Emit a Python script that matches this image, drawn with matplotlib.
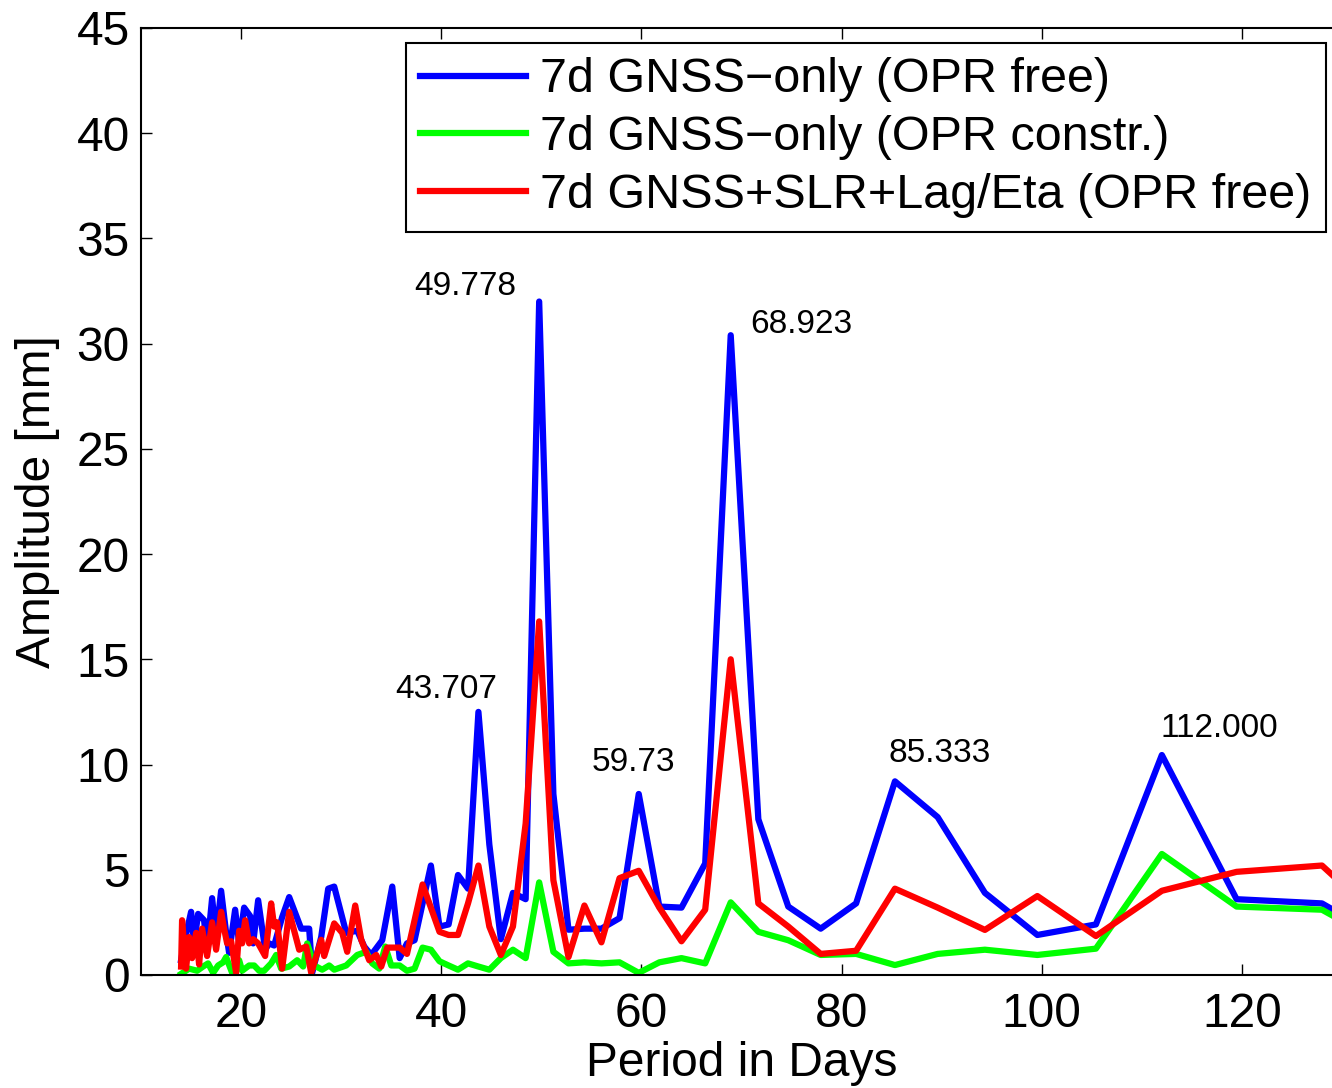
import numpy as np
import matplotlib
matplotlib.use('Agg')
import matplotlib.pyplot as plt

plt.rcParams['font.family'] = ['Liberation Sans', 'DejaVu Sans']

#%% data
# dense short-period part, own vertices per series
blue_x_dense = [14.0, 14.3, 15.0, 15.3, 15.7, 16.3, 16.6, 17.1, 17.5, 18.0, 18.5, 18.8,
                19.4, 19.8, 20.3, 20.9, 21.2, 21.7, 22.4, 22.8, 23.3, 24.1, 24.8, 26.0,
                26.8, 27.1, 28.0, 28.7, 29.3, 30.5, 31.6, 32.3, 33.0, 34.1, 35.1, 35.84]
blue_y_dense = [0.7, 1.5, 3.0, 1.5, 2.9, 2.6, 1.2, 3.65, 1.8, 4.0, 2.0, 1.05,
                3.1, 1.5, 3.2, 2.8, 1.5, 3.55, 1.2, 1.5, 1.4, 2.75, 3.7, 2.2,
                2.2, 0.1, 1.8, 4.1, 4.2, 2.0, 2.1, 1.35, 0.95, 1.65, 4.2, 0.8]

red_x_dense = [14.0, 14.1, 14.5, 14.8, 15.1, 15.5, 15.8, 16.1, 16.6, 17.1, 17.5, 18.0,
               18.3, 18.6, 19.0, 19.5, 19.8, 20.1, 20.4, 20.8, 21.2, 21.7, 22.4, 23.0,
               23.3, 23.6, 24.1, 24.8, 25.8, 26.5, 27.0, 28.0, 28.3, 29.3, 30.1, 30.6,
               31.4, 32.0, 32.8, 33.5, 34.0, 34.6, 35.3, 35.84]
red_y_dense = [0.4, 2.6, 0.3, 1.8, 0.8, 2.0, 0.5, 2.2, 0.9, 2.5, 1.2, 3.0,
               2.2, 1.5, 1.6, 0.1, 2.1, 1.5, 2.6, 1.5, 1.7, 1.5, 0.9, 3.4,
               2.3, 2.5, 0.3, 3.0, 1.2, 1.35, 0.1, 1.67, 0.9, 2.45, 2.0, 1.1,
               3.3, 1.67, 0.7, 0.95, 0.4, 1.3, 1.3, 1.3]

green_x_dense = [14.0, 14.8, 15.6, 16.2, 16.7, 17.2, 17.7, 18.2, 18.5, 19.1, 19.8, 20.1,
                 20.8, 21.3, 21.8, 22.3, 23.0, 23.5, 24.0, 24.8, 25.6, 26.2, 26.6, 27.3,
                 28.1, 28.8, 29.3, 30.5, 31.6, 32.5, 33.1, 33.8, 34.4, 35.0, 35.84]
green_y_dense = [0.05, 0.3, 0.2, 0.4, 0.55, 0.1, 0.45, 0.6, 0.85, 0.1, 0.7, 0.2,
                 0.45, 0.45, 0.2, 0.2, 0.55, 0.95, 0.3, 0.4, 0.7, 0.4, 1.5, 0.45,
                 0.25, 0.45, 0.25, 0.45, 0.95, 1.1, 0.55, 0.3, 1.35, 0.45, 0.45]

# longer periods (shared period grid)
periods = [36.57, 37.33, 38.13, 38.96, 39.82, 40.73, 41.67, 42.67, 43.71, 44.80,
           45.95, 47.16, 48.43, 49.78, 51.20, 52.71, 54.30, 56.00, 57.81, 59.73,
           61.79, 64.00, 66.37, 68.92, 71.68, 74.67, 77.91, 81.45, 85.33, 89.60,
           94.32, 99.56, 105.41, 112.00, 119.47, 128.00, 137.85]
blue_amp = [1.5, 1.65, 3.4, 5.2, 2.3, 2.4, 4.75, 4.1, 12.5, 6.2,
            1.7, 3.9, 3.6, 32.0, 8.6, 2.15, 2.2, 2.2, 2.7, 8.6,
            3.25, 3.2, 5.3, 30.4, 7.4, 3.25, 2.2, 3.4, 9.2, 7.5,
            3.9, 1.9, 2.4, 10.45, 3.6, 3.4, 0.7]
green_amp = [0.2, 0.3, 1.3, 1.2, 0.65, 0.45, 0.25, 0.55, 0.4, 0.25,
             0.8, 1.2, 0.8, 4.4, 1.1, 0.55, 0.6, 0.55, 0.6, 0.1,
             0.6, 0.8, 0.55, 3.45, 2.05, 1.65, 0.95, 1.0, 0.47, 1.0,
             1.2, 0.95, 1.25, 5.75, 3.25, 3.1, 0.5]
red_amp = [1.0, 2.6, 4.3, 3.2, 2.05, 1.9, 1.9, 3.4, 5.2, 2.3,
           0.95, 2.3, 7.2, 16.8, 4.5, 0.85, 3.3, 1.55, 4.6, 4.95,
           3.2, 1.6, 3.1, 15.0, 3.4, 2.3, 1.0, 1.15, 4.1, 3.2,
           2.14, 3.75, 1.85, 4.0, 4.9, 5.2, 0.9]

labels = ['7d GNSS\u2212only (OPR free)', '7d GNSS\u2212only (OPR constr.)',
          '7d GNSS+SLR+Lag/Eta (OPR free)']

peak_text = ['49.778', '68.923', '43.707', '59.73', '85.333', '112.000']
peak_tx = [42.4, 76.0, 40.5, 59.2, 89.8, 117.7]
peak_ty = [32.7, 30.9, 13.55, 10.1, 10.5, 11.7]

#%% plot
fig = plt.figure(figsize=(13.32, 10.88), dpi=100)
ax = fig.add_axes([0.1059, 0.1039, 0.9016, 0.8704])

ax.plot(blue_x_dense + periods, blue_y_dense + blue_amp, color='#0000ff', lw=4.5, label=labels[0])
ax.plot(green_x_dense + periods, green_y_dense + green_amp, color='#00ff00', lw=4.5, label=labels[1])
ax.plot(red_x_dense + periods, red_y_dense + red_amp, color='#ff0000', lw=4.5, label=labels[2])

for t, x, y in zip(peak_text, peak_tx, peak_ty):
    ax.text(x, y, t, fontsize=24, ha='center', va='center')

ax.set_xlim(10, 130)
ax.set_ylim(0, 45)
ax.set_xticks([20, 40, 60, 80, 100, 120])
ax.set_yticks(np.arange(0, 46, 5))
ax.tick_params(axis='both', direction='in', labelsize=34.5, length=8, width=1,
               top=True, right=False)
ax.tick_params(axis='x', pad=12)
ax.tick_params(axis='y', pad=8)
for s in ax.spines.values():
    s.set_linewidth(1.5)

ax.set_xlabel('Period in Days', fontsize=34.5, labelpad=3)
ax.set_ylabel('Amplitude [mm]', fontsize=34.5, labelpad=12)

leg = ax.legend(loc='upper right', bbox_to_anchor=(0.9867, 0.9842), borderaxespad=0,
                fontsize=34.9, handlelength=2.18, handletextpad=0.29, borderpad=0.3,
                labelspacing=0.26, fancybox=False, framealpha=1, edgecolor='black')
leg.get_frame().set_linewidth(1.5)

fig.savefig('out.png', dpi=100)
